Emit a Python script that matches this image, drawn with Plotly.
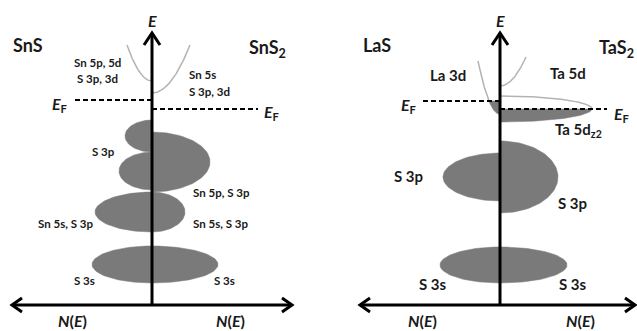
import numpy as np
import plotly.graph_objects as go

W, H = 637, 331
BASE_Y = 305  # pixel row of the N(E) axis

# ---------------- data (E upward from N(E) axis, N signed: left<0, right>0) -------------
panels = ["SnS|SnS2", "LaS|TaS2"]
panel_axis_x = [152, 500]

# filled DOS lobes: (panel, side, E_center, E_half, N_width)
lobe_panel = [0, 0, 0, 0, 0, 0, 0, 1, 1, 1, 1]
lobe_side = [-1, -1, -1, -1, 1, 1, 1, -1, -1, 1, 1]
lobe_Ec = [169, 134, 93, 40.5, 143, 93, 40.5, 128, 40, 128, 40]
lobe_Eh = [16, 19, 20, 18.5, 30, 20, 18.5, 24, 18, 36, 18]
lobe_Nw = [27, 33, 57, 60, 58, 33, 66, 57, 60, 58, 67]

# conduction band curves: (panel, side, E_vertex, N_end, E_end)
cb_panel = [0, 0, 1, 1]
cb_side = [-1, 1, -1, 1]
cb_Ev = [224, 212, 191, 219]
cb_Nend = [25, 38, 22, 26]
cb_Eend = [260, 260, 244, 248]

# Fermi levels: (panel, side, E, N_extent)
ef_panel = [0, 0, 1, 1]
ef_side = [-1, 1, -1, 1]
ef_E = [205, 196, 204, 196]
ef_len = [80, 106, 80, 107]

# Ta 5d_z2 lens (TaS2): E_center, E_half, N_width
lens_E, lens_h, lens_w = 196, 13, 92

# axes extents
h_axis_left = [-140, -140]
h_axis_right = [140, 135]
v_axis_top = 272

FILL = "#7a7a7a"
CURVE = "#b3b3b3"
TXT = "#1a1a1a"
FONT = "Lato, 'Open Sans', sans-serif"

fig = go.Figure()


def add(x, y, **kw):
    fig.add_trace(go.Scatter(x=x, y=y, hoverinfo="skip", showlegend=False, **kw))


# lobes
t = np.linspace(-np.pi / 2, np.pi / 2, 60)
for p, s, c, h, w in zip(lobe_panel, lobe_side, lobe_Ec, lobe_Eh, lobe_Nw):
    ax = panel_axis_x[p]
    xs = ax + s * w * np.cos(t)
    ys = c + h * np.sin(t)
    add(list(xs) + [ax], list(ys) + [c - h], mode="lines", fill="toself",
        fillcolor=FILL, line=dict(color=FILL, width=0.5))

# lens (Ta 5d_z2): lower half filled, upper outline
ax = panel_axis_x[1]
tl = np.linspace(-np.pi / 2, 0, 40)
add([ax] + list(ax + lens_w * np.cos(tl)) + [ax],
    [lens_E] + list(lens_E + lens_h * np.sin(tl)) + [lens_E],
    mode="lines", fill="toself", fillcolor=FILL, line=dict(color=FILL, width=0.5))
tu = np.linspace(0, np.pi / 2, 40)
add(ax + lens_w * np.cos(tu), lens_E + lens_h * np.sin(tu), mode="lines",
    line=dict(color=CURVE, width=1.5))

# conduction band curves
for p, s, ev, ne, ee in zip(cb_panel, cb_side, cb_Ev, cb_Nend, cb_Eend):
    ax = panel_axis_x[p]
    k = (ee - ev) / ne ** 2
    n = np.linspace(0, ne, 40)
    add(ax + s * n, ev + k * n ** 2, mode="lines", line=dict(color=CURVE, width=1.5))

# La 3d filled part below the LaS Fermi level
ax = panel_axis_x[1]
ev, ne, ee = cb_Ev[2], cb_Nend[2], cb_Eend[2]
k = (ee - ev) / ne ** 2
efl = ef_E[2]
n0 = np.sqrt((efl - ev) / k)
n = np.linspace(n0, 0, 30)
add(list(ax - n) + [ax, ax - n0], list(ev + k * n ** 2) + [efl, efl],
    mode="lines", fill="toself", fillcolor=FILL, line=dict(color=FILL, width=0.5))

# Fermi levels (dashed)
for p, s, e, L in zip(ef_panel, ef_side, ef_E, ef_len):
    ax = panel_axis_x[p]
    add([ax, ax + s * L], [e, e], mode="lines",
        line=dict(color="black", width=2, dash="5px,3px"))

# axes with chevron arrowheads
for p in range(2):
    ax = panel_axis_x[p]
    add([ax, ax], [0, v_axis_top], mode="lines", line=dict(color="black", width=3))
    add([ax - 8, ax, ax + 8], [v_axis_top - 12, v_axis_top, v_axis_top - 12],
        mode="lines", line=dict(color="black", width=3))
    l, r = ax + h_axis_left[p], ax + h_axis_right[p]
    add([l, r], [0, 0], mode="lines", line=dict(color="black", width=3))
    add([l + 10, l, l + 10], [7, 0, -7], mode="lines", line=dict(color="black", width=3))
    add([r - 10, r, r - 10], [7, 0, -7], mode="lines", line=dict(color="black", width=3))

# ---------------- text labels (pixel positions) -----------------
labels = [
    # text, x, y, size, anchor
    ("<b><i>E</i></b>", 152, 20, 16, "center"),
    ("<b><i>E</i></b>", 500, 20, 16, "center"),
    ("<b>SnS</b>", 28, 45, 18, "center"),
    ("<b>SnS<sub>2</sub></b>", 267, 48, 18, "center"),
    ("<b>LaS</b>", 377, 45, 18, "center"),
    ("<b>TaS<sub>2</sub></b>", 616, 48, 18, "center"),
    ("<b>Sn 5p, 5d</b>", 97, 62, 11.5, "center"),
    ("<b>S 3p, 3d</b>", 97, 78, 11.5, "center"),
    ("<b>Sn 5s</b>", 188, 74, 11.5, "left"),
    ("<b>S 3p, 3d</b>", 188, 91, 11.5, "left"),
    ("<b><i>E</i><sub>F</sub></b>", 59, 104, 16, "center"),
    ("<b><i>E</i><sub>F</sub></b>", 271, 113, 16, "center"),
    ("<b><i>E</i><sub>F</sub></b>", 408, 105, 16, "center"),
    ("<b><i>E</i><sub>F</sub></b>", 621, 114, 16, "center"),
    ("<b>S 3p</b>", 103, 152, 11.5, "center"),
    ("<b>Sn 5p, S 3p</b>", 192, 192, 11.5, "left"),
    ("<b>Sn 5s, S 3p</b>", 65, 223, 11.5, "center"),
    ("<b>Sn 5s, S 3p</b>", 192, 223, 11.5, "left"),
    ("<b>S 3s</b>", 84, 280, 11.5, "center"),
    ("<b>S 3s</b>", 224, 280, 11.5, "center"),
    ("<b>La 3d</b>", 448, 75, 15, "center"),
    ("<b>Ta 5d</b>", 568, 73, 15, "center"),
    ("<b>Ta 5d<sub>z2</sub></b>", 578, 130, 15, "center"),
    ("<b>S 3p</b>", 408, 176, 15, "center"),
    ("<b>S 3p</b>", 572, 203, 15, "center"),
    ("<b>S 3s</b>", 433, 284, 15, "center"),
    ("<b>S 3s</b>", 573, 284, 15, "center"),
    ("<b><i>N</i>(<i>E</i>)</b>", 72, 320, 16, "center"),
    ("<b><i>N</i>(<i>E</i>)</b>", 230, 320, 16, "center"),
    ("<b><i>N</i>(<i>E</i>)</b>", 422, 320, 16, "center"),
    ("<b><i>N</i>(<i>E</i>)</b>", 580, 320, 16, "center"),
]
for txt, x, y, size, anchor in labels:
    fig.add_annotation(x=x / W, y=1 - y / H, xref="paper", yref="paper", text=txt,
                       showarrow=False, xanchor=anchor, yanchor="middle", borderpad=0,
                       font=dict(family=FONT, size=size, color=TXT))

fig.update_layout(
    width=W, height=H, margin=dict(l=0, r=0, t=0, b=0),
    paper_bgcolor="white", plot_bgcolor="white",
    xaxis=dict(range=[0, W], visible=False, fixedrange=True),
    yaxis=dict(range=[-(H - BASE_Y), BASE_Y], visible=False, fixedrange=True),
)
fig.write_html("out.html", config={"displayModeBar": False},
               post_script="document.body.style.margin='0';document.body.style.overflow='hidden';")
